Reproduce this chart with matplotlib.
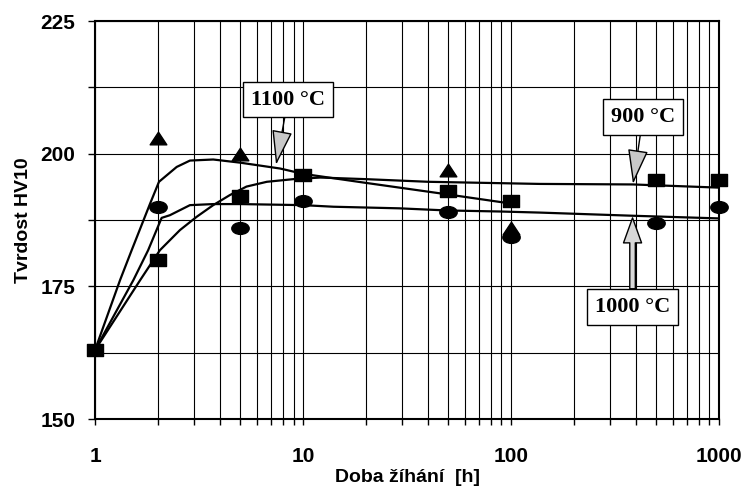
import numpy as np
import matplotlib
matplotlib.use("Agg")
import matplotlib.pyplot as plt
from matplotlib.path import Path
from matplotlib.transforms import Affine2D
from matplotlib.ticker import LogLocator, FixedLocator, NullFormatter

# measured points (annealing time [h], hardness HV10)
t_sq = [1, 2, 5, 10, 50, 100, 500, 1000]
hv_sq = [163, 180, 192, 196, 193, 191, 195, 195]

t_ci = [2, 5, 10, 50, 100, 500, 1000]
hv_ci = [190, 186, 191, 189, 184.3, 187, 190]

t_tr = [2, 5, 50, 100]
hv_tr = [203, 200, 197, 186]

# trend curves
t_1100 = [1, 1.32, 1.5, 1.84, 2.03, 2.47, 2.86, 3.7, 5, 7.76, 10, 20, 50, 100]
hv_1100 = [163, 176.2, 181.8, 190.6, 194.7, 197.5, 198.7, 198.9, 198.3, 197.2, 196.2, 194.5, 192.3, 190.6]

t_1000 = [1, 1.53, 1.8, 2.09, 2.29, 2.86, 3.7, 5, 10, 14, 29, 49, 89, 137, 386, 1000]
hv_1000 = [163, 176.2, 181.8, 187.9, 188.4, 190.3, 190.5, 190.5, 190.3, 190.0, 189.7, 189.3, 189.1, 188.9, 188.3, 187.8]

t_900 = [1, 1.65, 2.05, 2.56, 3.08, 3.7, 4.45, 5.35, 6.7, 9, 12.1, 20, 40, 137, 386, 1000]
hv_900 = [163, 176.2, 181.8, 185.6, 188.1, 190.3, 192.2, 193.8, 194.7, 195.2, 195.5, 195.2, 194.7, 194.3, 194.2, 193.6]

# callouts: (text, text position, arrow tip)
lbl_1100 = ("1100 °C", (8.47, 210.2), (7.42, 197.9))
lbl_900 = ("900 °C", (431, 206.9), (386, 194.3))
lbl_1000 = ("1000 °C", (384, 171.1), (384, 187.9))

# marker shapes (slightly flattened as in the original)
ell = Path.unit_circle().transformed(Affine2D().scale(1, 0.68))
rect = Path([(-1, -0.75), (1, -0.75), (1, 0.75), (-1, 0.75), (-1, -0.75)],
            [Path.MOVETO, Path.LINETO, Path.LINETO, Path.LINETO, Path.CLOSEPOLY])
tri = Path([(-1, -0.76), (1, -0.76), (0, 0.76), (-1, -0.76)],
           [Path.MOVETO, Path.LINETO, Path.LINETO, Path.CLOSEPOLY])

plt.rcParams['font.family'] = ['Liberation Sans', 'DejaVu Sans']

fig = plt.figure(figsize=(7.43, 4.93), dpi=100)
ax = fig.add_axes([0.1279, 0.1501, 0.8398, 0.8073])

for t, hv in [(t_1100, hv_1100), (t_1000, hv_1000), (t_900, hv_900)]:
    ax.plot(t, hv, color='black', lw=1.6, zorder=3)

ax.plot(t_sq, hv_sq, ls='none', marker=rect, ms=11.5, color='black', zorder=4, clip_on=False)
ax.plot(t_ci, hv_ci, ls='none', marker=ell, ms=12.5, color='black', zorder=4, clip_on=False)
ax.plot(t_tr, hv_tr, ls='none', marker=tri, ms=12, color='black', zorder=4, clip_on=False)

ax.set_xscale('log')
ax.set_xlim(1, 1000)
ax.set_ylim(150, 225)

ax.xaxis.set_major_locator(FixedLocator([1, 10, 100, 1000]))
ax.set_xticklabels(['1', '10', '100', '1000'])
ax.xaxis.set_minor_locator(LogLocator(base=10, subs=np.arange(2, 10)))
ax.xaxis.set_minor_formatter(NullFormatter())
ax.yaxis.set_major_locator(FixedLocator([150, 175, 200, 225]))
ax.yaxis.set_minor_locator(FixedLocator([162.5, 187.5, 212.5]))

ax.grid(True, which='both', color='black', lw=0.8)
ax.set_axisbelow(True)

ax.tick_params(axis='both', which='both', direction='out', width=1, colors='black')
ax.tick_params(axis='x', which='both', length=4, pad=16)
ax.tick_params(axis='y', which='both', length=5, pad=9)
for lab in ax.get_xticklabels() + ax.get_yticklabels():
    lab.set_fontsize(15)
    lab.set_fontweight('bold')

for s in ax.spines.values():
    s.set_linewidth(1.5)

ax.set_xlabel("Doba žíhání  [h]", fontsize=14, fontweight='bold', labelpad=2)
ax.set_ylabel("Tvrdost HV10", fontsize=14, fontweight='bold', labelpad=6)

bbox = dict(boxstyle='square,pad=0.35', fc='white', ec='black', lw=1)
for txt, pos, tip in [lbl_1100, lbl_900]:
    ax.annotate(txt, xy=tip, xytext=pos, ha='center', va='center',
                fontsize=16, fontweight='bold', family='Liberation Serif',
                bbox=bbox, zorder=6,
                arrowprops=dict(arrowstyle='-|>,head_length=2.2,head_width=0.65',
                                mutation_scale=10, fc='#c8c8c8', ec='black',
                                lw=1, shrinkA=0, shrinkB=0))

txt, pos, tip = lbl_1000
ax.annotate(txt, xy=tip, xytext=pos, ha='center', va='center',
            fontsize=16, fontweight='bold', family='Liberation Serif',
            bbox=bbox, zorder=6,
            arrowprops=dict(arrowstyle='simple,head_length=1.8,head_width=1.3,tail_width=0.4',
                            mutation_scale=10, fc='#d8d8d8', ec='black',
                            lw=1, shrinkA=0, shrinkB=0))

fig.savefig('out.png', dpi=100)
